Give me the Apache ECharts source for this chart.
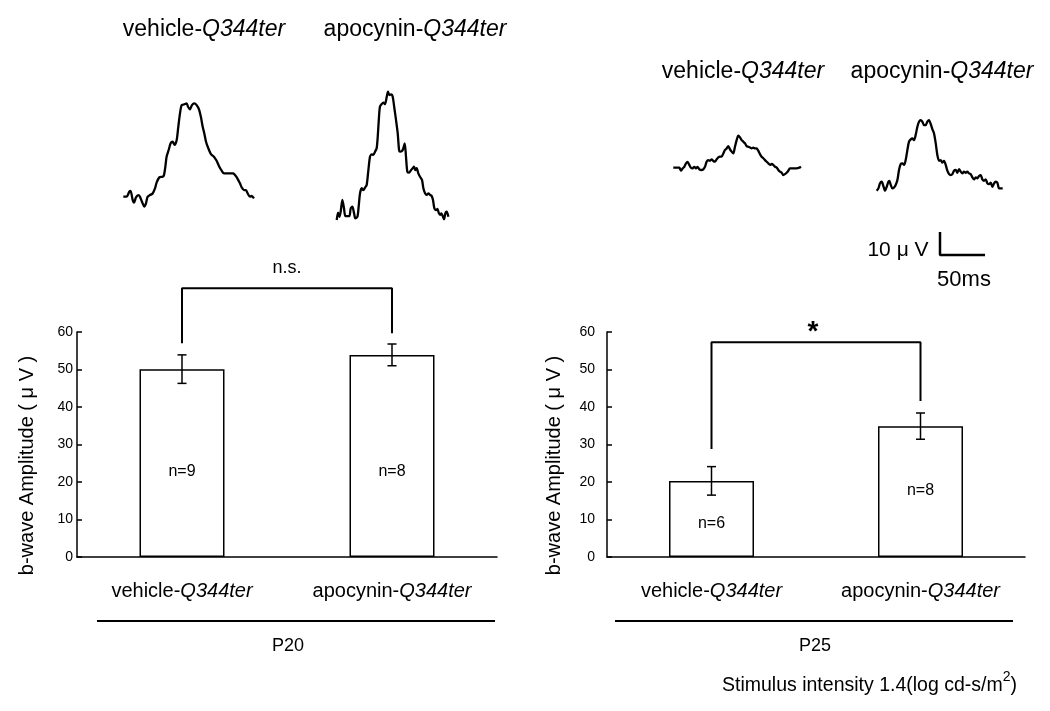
<!DOCTYPE html>
<html><head><meta charset="utf-8">
<script src="https://cdn.jsdelivr.net/npm/echarts/dist/echarts.min.js"></script>
<style>html,body{margin:0;padding:0;background:#fff}#c{width:1050px;height:711px}</style>
</head><body><div id="c"></div>
<script>
// ---------- data ----------
const categories = ['vehicle-Q344ter', 'apocynin-Q344ter'];
const p20Mean = [50.1, 53.9];
const p20Sem = [3.8, 2.9];
const p25Mean = [20.3, 34.9];
const p25Sem = [3.8, 3.5];
const p20N = ['n=9', 'n=8'];
const p25N = ['n=6', 'n=8'];
const p20NLabelAt = [22.7, 22.7];
const p25NLabelAt = [8.8, 17.6];
const p20Bracket = [57, 71.7, 71.7, 59.7];
const p25Bracket = [28.8, 57.3, 57.3, 41.6];
const p20Sig = 'n.s.';
const p25Sig = '*';
const groupLabels = ['P20', 'P25'];
const yMin = 0, yMax = 60, yStep = 10;
const stimulusText = 'Stimulus intensity 1.4(log cd-s/m';
const scaleBarLabels = ['10 \u03bc V', '50ms'];
const scaleBarSize = [50, 10]; // ms, uV

// ERG traces: [time ms, amplitude uV] relative to trace start
const traceP20Vehicle = [[0,0],[3.7,0],[6.7,2.2],[8.1,2.5],[10.4,-1.4],[11.9,-2.6],[14.1,-0.3],[16.7,0.7],[18.5,0],[21.5,-2.9],[23.3,-4.3],[25.2,-2.9],[27.0,0],[29.6,0.7],[32.6,1.4],[35.2,3.6],[37.0,6.1],[40.0,8.4],[43.7,8.7],[45.2,9.4],[46.7,13.0],[48.1,17.4],[50.4,20.3],[52.6,23.2],[54.8,23.9],[57.0,22.5],[59.3,24.6],[61.1,30.4],[63.0,36.2],[64.8,39.8],[67.4,40.1],[70.4,40.6],[71.9,39.1],[74.1,38.0],[76.3,39.8],[78.9,40.6],[81.5,39.8],[84.1,38.0],[86.3,34.5],[88.2,30.4],[90.0,27.5],[91.9,23.9],[94.5,21.0],[97.4,18.5],[100.7,17.4],[103.7,15.6],[106.7,13.0],[109.3,11.3],[111.9,10.1],[114.8,10.1],[118.5,10.1],[122.2,10.1],[124.1,9.4],[126.7,8.0],[129.6,5.8],[131.5,4.1],[134.1,2.9],[136.3,2.9],[138.2,1.4],[140.7,0],[142.6,0.3],[145.2,-0.7]];
const traceP20Apocynin = [[0,0],[1.5,3.2],[3.0,1.4],[4.4,3.6],[6.3,8.7],[8.1,5.1],[9.6,1.7],[11.9,1.7],[14.1,1.7],[15.6,5.1],[17.4,5.8],[19.3,2.9],[20.7,0.7],[23.0,1.4],[24.4,5.8],[25.9,11.6],[27.8,13.8],[29.6,13.0],[31.5,14.1],[33.3,15.2],[35.2,21.7],[37.0,27.5],[38.9,28.5],[40.7,28.3],[42.6,29.7],[44.4,31.2],[45.6,36.2],[47.0,44.9],[48.1,49.3],[50.0,50.4],[51.9,51.0],[53.7,50.4],[55.6,53.6],[57.0,55.8],[58.5,54.3],[60.4,54.6],[62.2,53.6],[64.1,48.6],[65.9,43.5],[67.8,37.7],[69.3,30.4],[70.4,29.7],[72.6,30.0],[74.1,31.2],[75.6,33.3],[77.0,27.5],[78.5,21.0],[80.7,20.6],[82.6,21.7],[84.5,22.5],[85.9,23.2],[87.4,21.7],[88.9,22.5],[90.7,20.3],[92.6,18.8],[94.8,17.4],[96.3,13.8],[98.2,11.6],[100.0,10.9],[101.9,11.6],[103.7,10.9],[105.6,10.4],[107.0,8.7],[108.5,5.1],[110.4,4.3],[111.9,4.8],[113.3,3.2],[114.8,2.2],[116.3,2.9],[117.8,1.7],[119.3,0.3],[120.7,2.9],[122.2,3.6],[124.1,1.4]];
const traceP25Vehicle = [[0,0],[3.7,0],[6.7,0],[8.5,-1.3],[10.4,-0.3],[12.2,0.4],[14.1,1.9],[15.9,2.5],[17.8,1.2],[19.6,0],[21.5,-0.3],[23.3,0.4],[25.2,-0.3],[27.0,0.4],[28.9,-0.7],[31.5,-1.0],[33.3,-0.7],[35.2,0.4],[37.0,2.6],[38.9,3.3],[40.7,3.0],[42.6,3.6],[44.4,2.9],[46.3,2.6],[48.1,3.6],[50.0,4.5],[51.9,4.8],[53.7,4.8],[55.6,6.2],[57.4,7.7],[59.3,8.4],[61.1,9.4],[63.0,8.0],[64.8,7.0],[66.7,6.2],[68.5,9.1],[70.4,12.0],[72.2,13.9],[74.1,13.2],[75.9,12.0],[77.8,11.3],[79.6,10.6],[81.5,9.4],[83.3,9.1],[85.2,8.8],[87.0,8.4],[88.9,8.7],[90.7,8.4],[92.6,8.4],[94.4,7.4],[96.3,5.9],[98.1,4.8],[100.0,4.1],[101.9,3.3],[103.7,2.6],[105.6,1.9],[107.4,1.2],[109.3,1.6],[111.1,1.2],[113.0,0.4],[114.8,0.1],[116.7,-1.0],[118.5,-1.7],[120.4,-2.2],[122.2,-3.2],[124.1,-2.8],[125.9,-2.2],[127.8,-1.3],[129.6,-0.3],[133.3,-0.3],[137.0,-0.3],[140.0,0],[141.9,0.4]];
const traceP25Apocynin = [[0,0],[1.9,1.0],[3.7,3.2],[5.6,3.9],[7.4,2.0],[9.3,0],[11.1,1.7],[13.0,3.9],[14.1,4.3],[15.6,2.5],[17.4,1.0],[19.3,1.4],[21.1,2.5],[23.0,4.6],[24.8,9.0],[26.7,11.6],[28.5,11.9],[30.4,11.2],[32.2,13.3],[34.1,17.7],[35.9,21.3],[37.8,22.3],[39.6,22.7],[41.5,22.0],[43.3,24.2],[45.2,27.8],[47.0,30.0],[48.9,30.7],[50.7,30.0],[52.6,28.5],[54.4,28.5],[56.3,30.0],[58.1,30.7],[60.0,29.0],[61.9,26.7],[63.7,24.9],[65.6,20.6],[67.4,15.5],[69.3,13.0],[71.1,13.3],[73.0,12.2],[74.8,13.0],[76.7,11.2],[78.5,8.7],[80.4,7.2],[82.2,6.8],[84.1,7.2],[85.9,8.7],[87.8,9.0],[89.6,7.8],[91.5,9.4],[93.3,8.3],[95.2,7.5],[97.0,8.3],[98.9,7.8],[100.7,8.3],[102.6,7.5],[104.5,7.2],[106.3,5.8],[108.2,4.9],[110.0,5.8],[111.9,5.4],[113.7,6.4],[115.6,6.8],[117.4,4.9],[119.3,4.3],[121.1,4.9],[123.0,3.2],[124.8,2.9],[126.7,3.5],[128.5,1.7],[130.4,3.2],[132.2,3.9],[134.1,3.5],[135.9,1.0],[137.8,1.0],[140.0,1.0]];

// ---------- layout ----------
const FONT = 'Liberation Sans, Arial, sans-serif';
const PX_PER_MS = 0.9, PX_PER_UV = 2.3;
const barGrids = [
  {left: 77, top: 332, width: 420, height: 225},
  {left: 607, top: 332, width: 418, height: 225}
];
const traceLayout = [
  {x0: 123.3, y0: 196.7, tMax: 150, vMin: -6, vMax: 44, data: traceP20Vehicle},
  {x0: 336.7, y0: 220.0, tMax: 130, vMin: -2, vMax: 58, data: traceP20Apocynin},
  {x0: 673.3, y0: 167.7, tMax: 145, vMin: -5, vMax: 16, data: traceP25Vehicle},
  {x0: 876.7, y0: 190.7, tMax: 145, vMin: -2, vMax: 33, data: traceP25Apocynin},
  {x0: 940, y0: 255, tMax: scaleBarSize[0], vMin: 0, vMax: scaleBarSize[1], data: [[0, scaleBarSize[1]], [0, 0], [scaleBarSize[0], 0]], bar: true}
];

const CAT_SIZE = 20;
const catRich = {
  n: {fontSize: CAT_SIZE, fontFamily: FONT, color: '#000'},
  i: {fontSize: CAT_SIZE, fontFamily: FONT, color: '#000', fontStyle: 'italic'}
};
function catFmt(s) { const k = s.indexOf('-'); return '{n|' + s.slice(0, k + 1) + '}{i|' + s.slice(k + 1) + '}'; }

const grids = [], xAxes = [], yAxes = [], series = [];

function errRender(params, api) {
  const x = api.value(0), lo = api.value(1), hi = api.value(2);
  const a = api.coord([x, hi]), b = api.coord([x, lo]);
  const w = 4.5, st = {stroke: '#000', lineWidth: 1.5};
  return {type: 'group', children: [
    {type: 'line', shape: {x1: a[0], y1: a[1], x2: b[0], y2: b[1]}, style: st},
    {type: 'line', shape: {x1: a[0] - w, y1: a[1], x2: a[0] + w, y2: a[1]}, style: st},
    {type: 'line', shape: {x1: b[0] - w, y1: b[1], x2: b[0] + w, y2: b[1]}, style: st}
  ]};
}

const panels = [
  {mean: p20Mean, sem: p20Sem, n: p20N, nAt: p20NLabelAt, br: p20Bracket, labelMargin: 4, nameGap: 40},
  {mean: p25Mean, sem: p25Sem, n: p25N, nAt: p25NLabelAt, br: p25Bracket, labelMargin: 12, nameGap: 43}
];
panels.forEach((p, gi) => {
  grids.push(barGrids[gi]);
  xAxes.push({
    type: 'category', gridIndex: gi, data: categories, boundaryGap: true,
    axisLine: {show: true, lineStyle: {color: '#000', width: 1.5}},
    axisTick: {show: false},
    axisLabel: {margin: 24, formatter: catFmt, rich: catRich, interval: 0}
  });
  yAxes.push({
    type: 'value', gridIndex: gi, min: yMin, max: yMax, interval: yStep,
    name: 'b-wave Amplitude ( \u03bc V )', nameLocation: 'middle', nameGap: p.nameGap, nameRotate: 90,
    nameTextStyle: {fontSize: 20, fontFamily: FONT, color: '#000', padding: [0, 42, 0, 0]},
    axisLine: {show: true, lineStyle: {color: '#000', width: 1.5}},
    axisTick: {show: true, inside: true, length: 5, lineStyle: {color: '#000', width: 1.5}},
    axisLabel: {color: '#000', fontSize: 14, fontFamily: FONT, margin: p.labelMargin},
    splitLine: {show: false}
  });
  series.push({
    type: 'bar', xAxisIndex: gi, yAxisIndex: gi, data: p.mean, barWidth: 85,
    itemStyle: {color: '#fff', borderColor: '#000', borderWidth: 1.5}, silent: true
  });
  series.push({
    type: 'custom', xAxisIndex: gi, yAxisIndex: gi, renderItem: errRender, z: 5,
    encode: {x: 0, y: [1, 2]},
    data: p.mean.map((m, i) => [i, m - p.sem[i], m + p.sem[i]])
  });
  series.push({
    type: 'scatter', xAxisIndex: gi, yAxisIndex: gi, symbolSize: 0, z: 6,
    itemStyle: {opacity: 1, color: '#000'},
    data: p.nAt.map((v, i) => [i, v, p.n[i]]),
    label: {show: true, position: 'inside', formatter: q => q.value[2], color: '#000', fontSize: 16, fontFamily: FONT}
  });
  series.push({
    type: 'line', xAxisIndex: gi, yAxisIndex: gi, clip: false, symbol: 'none', z: 7,
    lineStyle: {color: '#000', width: 2},
    data: [[0, p.br[0]], [0, p.br[1]], [1, p.br[2]], [1, p.br[3]]]
  });
});

traceLayout.forEach((t, k) => {
  const gi = grids.length;
  grids.push({left: t.x0, width: t.tMax * PX_PER_MS, top: t.y0 - t.vMax * PX_PER_UV, height: (t.vMax - t.vMin) * PX_PER_UV});
  xAxes.push({type: 'value', gridIndex: gi, min: 0, max: t.tMax, show: false});
  yAxes.push({type: 'value', gridIndex: gi, min: t.vMin, max: t.vMax, show: false});
  series.push({
    type: 'line', xAxisIndex: gi, yAxisIndex: gi, data: t.data, symbol: 'none', clip: false,
    smooth: t.bar ? false : 0.25,
    lineStyle: {color: '#000', width: t.bar ? 2.5 : 2.3}
  });
});

function txt(x, y, text, size, extra) {
  return {type: 'text', x: x, y: y, style: Object.assign({
    text: text, fontSize: size, fontFamily: FONT, fill: '#000', align: 'center', verticalAlign: 'middle'
  }, extra || {})};
}
function richTitle(x, y, s, size) {
  return {type: 'text', x: x, y: y, style: {
    text: catFmt(s), align: 'center', verticalAlign: 'middle',
    rich: {n: {fontSize: size, fontFamily: FONT, fill: '#000'}, i: {fontSize: size, fontFamily: FONT, fill: '#000', fontStyle: 'italic'}}
  }};
}

const graphic = [
  richTitle(204, 30, categories[0], 23),
  richTitle(415, 30, categories[1], 23),
  richTitle(743, 72, categories[0], 23),
  richTitle(942, 72, categories[1], 23),
  txt(898, 250, scaleBarLabels[0], 21),
  txt(964, 280, scaleBarLabels[1], 22),
  txt(287, 268, p20Sig, 18),
  txt(813, 332, p25Sig, 28, {fontWeight: 'bold'}),
  {type: 'line', shape: {x1: 97, y1: 621, x2: 495, y2: 621}, style: {stroke: '#000', lineWidth: 2}},
  {type: 'line', shape: {x1: 615, y1: 621, x2: 1013, y2: 621}, style: {stroke: '#000', lineWidth: 2}},
  txt(288, 646, groupLabels[0], 18),
  txt(815, 646, groupLabels[1], 18),
  {type: 'text', x: 722, y: 686, style: {
    text: '{t|' + stimulusText + '}{s|2}{t|)}', align: 'left', verticalAlign: 'middle',
    rich: {t: {fontSize: 19.5, fontFamily: FONT, fill: '#000'}, s: {fontSize: 14, fontFamily: FONT, fill: '#000', padding: [0, 0, 18, 0]}}
  }}
];

const chart = echarts.init(document.getElementById('c'), null, {renderer: 'canvas'});
chart.setOption({
  animation: false,
  backgroundColor: '#fff',
  grid: grids, xAxis: xAxes, yAxis: yAxes, series: series, graphic: graphic
});
</script>
</body></html>
